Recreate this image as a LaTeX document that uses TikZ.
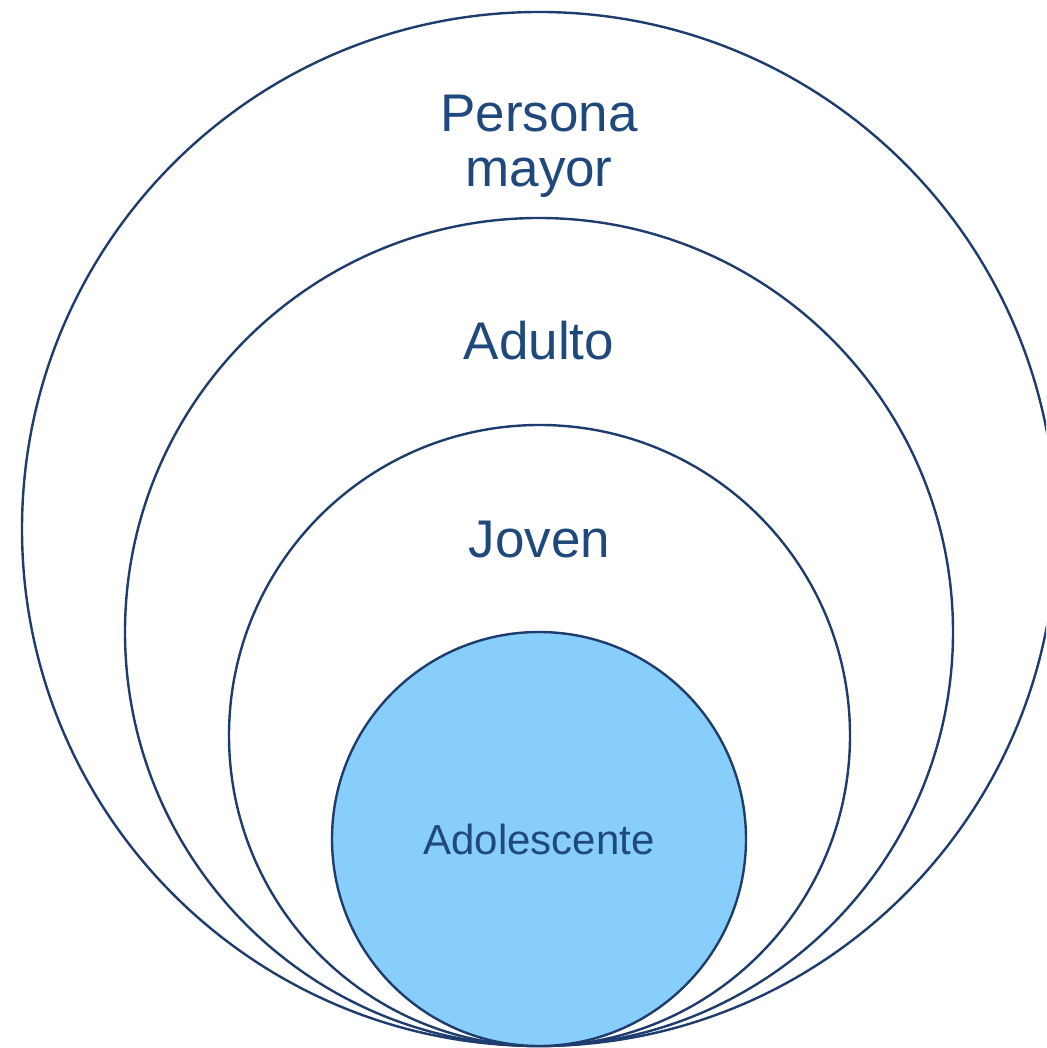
\documentclass[tikz,border=0pt]{standalone}
\usepackage{fontspec}
\setmainfont{Liberation Sans}
\definecolor{ringline}{HTML}{1F3C6E}
\definecolor{ringtext}{HTML}{1F497D}
\definecolor{teenfill}{HTML}{87CEFA}
\begin{document}
\begin{tikzpicture}[x=1pt, y=1pt]
        \useasboundingbox (0,0) rectangle (1046,1048);
        \clip (0,0) rectangle (1046,1048);
        \scoped{
                \tikzstyle{every node}=[circle, draw=ringline, line width=2.4pt, inner sep=0pt, outer sep=0pt];
                \node (mayor) [minimum size=1034pt] at (539,519) {};
                \node (adulto) [minimum size=828pt] at (539,416) {};
                \node (joven) [minimum size=621pt] at (539.5,312.5) {};
                \node (teen) [minimum size=414pt, fill=teenfill] at (539,209) {};
            };
            \tikzstyle{label}=[text=ringtext, font=\fontsize{53}{55}\selectfont, align=center, anchor=base];
            \path (mayor.north) -- +(0,-175) node (mayorlabel) [label] {Persona\\mayor};
            \path (adulto.north) -- +(0,-142) node (adultolabel) [label] {Adulto};
            \path (joven.north) -- +(0,-133) node (jovenlabel) [label] {Joven};
            \path (teen) -- +(0,-16) node (teenlabel) [label, font=\fontsize{42}{48}\selectfont] {Adolescente};
    \end{tikzpicture}
\end{document}
